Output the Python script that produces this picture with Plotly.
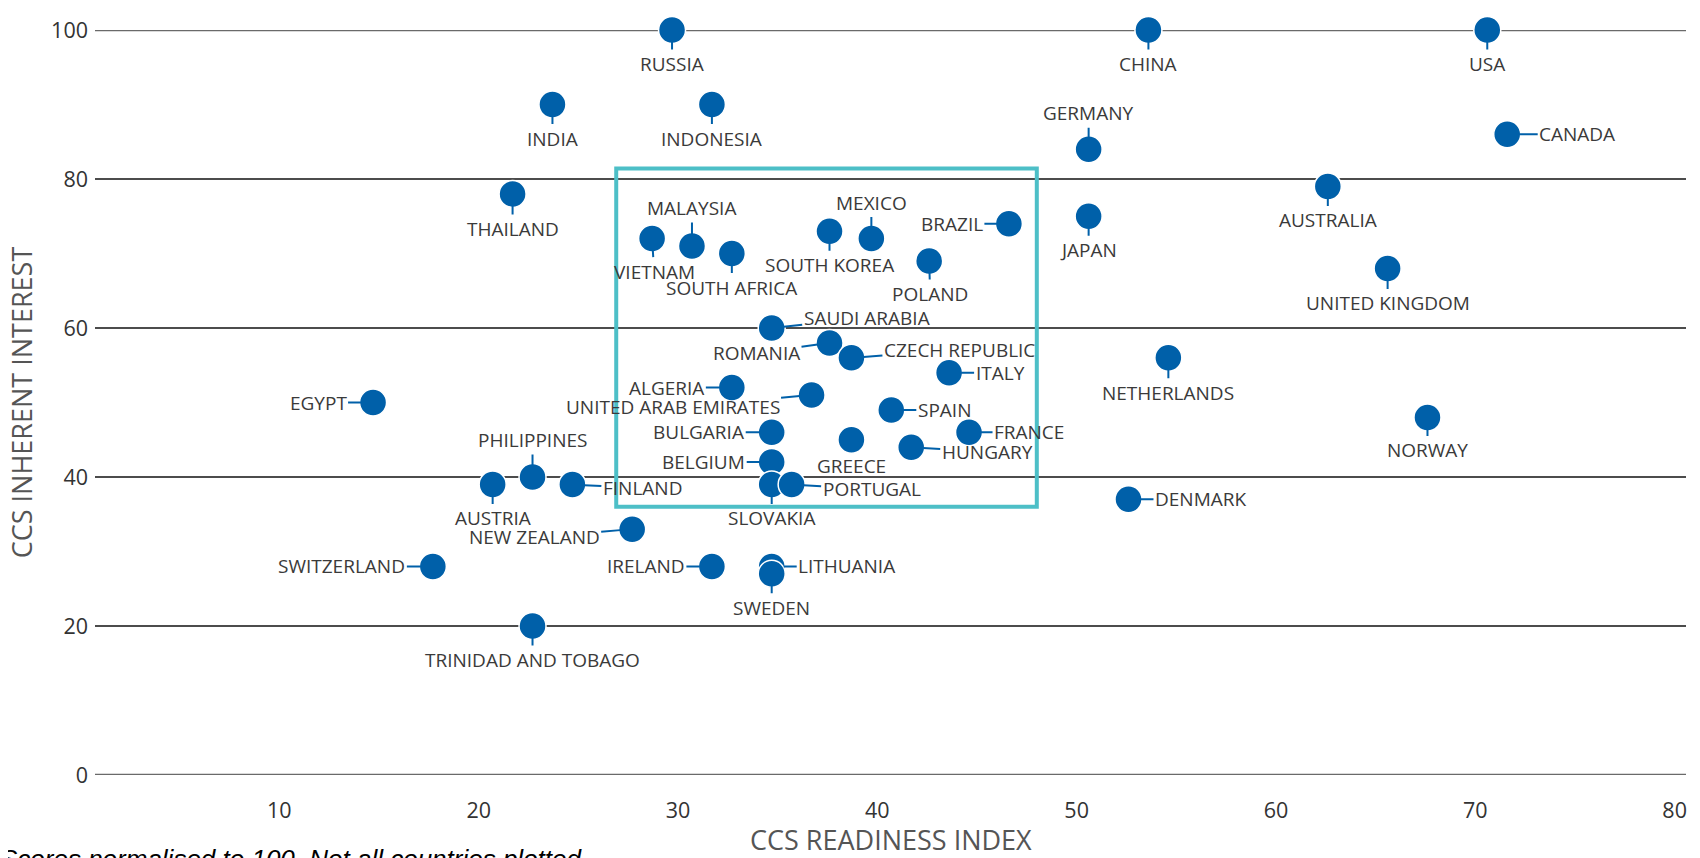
import plotly.graph_objects as go

# ---- data ----
countries = ["RUSSIA", "CHINA", "USA", "INDIA", "INDONESIA", "GERMANY", "CANADA",
             "THAILAND", "AUSTRALIA", "JAPAN", "BRAZIL", "MALAYSIA", "VIETNAM",
             "SOUTH AFRICA", "MEXICO", "SOUTH KOREA", "POLAND", "UNITED KINGDOM",
             "SAUDI ARABIA", "ROMANIA", "CZECH REPUBLIC", "NETHERLANDS", "ITALY",
             "ALGERIA", "UNITED ARAB EMIRATES", "EGYPT", "SPAIN", "NORWAY",
             "BULGARIA", "FRANCE", "GREECE", "HUNGARY", "BELGIUM", "PHILIPPINES",
             "AUSTRIA", "FINLAND", "SLOVAKIA", "PORTUGAL", "DENMARK", "NEW ZEALAND",
             "SWITZERLAND", "IRELAND", "LITHUANIA", "SWEDEN", "TRINIDAD AND TOBAGO"]
readiness = [29.7, 53.6, 70.6, 23.7, 31.7, 50.6, 71.6,
             21.7, 62.6, 50.6, 46.6, 30.7, 28.7,
             32.7, 39.7, 37.6, 42.6, 65.6,
             34.7, 37.6, 38.7, 54.6, 43.6,
             32.7, 36.7, 14.7, 40.7, 67.6,
             34.7, 44.6, 38.7, 41.7, 34.7, 22.7,
             20.7, 24.7, 34.7, 35.7, 52.6, 27.7,
             17.7, 31.7, 34.7, 34.7, 22.7]
interest = [100, 100, 100, 90, 90, 84, 86,
            78, 79, 75, 74, 71, 72,
            70, 72, 73, 69, 68,
            60, 58, 56, 56, 54,
            52, 51, 50, 49, 48,
            46, 46, 45, 44, 42, 40,
            39, 39, 39, 39, 37, 33,
            28, 28, 28, 27, 20]
x_ticks = [10, 20, 30, 40, 50, 60, 70, 80]
y_ticks = [0, 20, 40, 60, 80, 100]
focus_box = dict(x0=26.9, x1=48.0, y0=36.0, y1=81.4)

# ---- label placement (pixel offsets of label centre from marker) ----
label_offsets = {
    "RUSSIA": (0, 34), "CHINA": (0, 34), "USA": (0, 34), "INDIA": (0, 34),
    "INDONESIA": (0, 34), "GERMANY": (0, -36), "CANADA": (70, 0),
    "THAILAND": (0, 35), "AUSTRALIA": (0, 34), "JAPAN": (0, 34), "BRAZIL": (-57, 0),
    "MALAYSIA": (0, -38), "VIETNAM": (2, 33), "SOUTH AFRICA": (0, 34),
    "MEXICO": (0, -36), "SOUTH KOREA": (0, 34), "POLAND": (1, 33),
    "UNITED KINGDOM": (0, 35), "SAUDI ARABIA": (95, -10), "ROMANIA": (-73, 10),
    "CZECH REPUBLIC": (108, -8), "NETHERLANDS": (0, 35), "ITALY": (51, 0),
    "ALGERIA": (-65, 0), "UNITED ARAB EMIRATES": (-139, 12), "EGYPT": (-55, 0),
    "SPAIN": (53, 0), "NORWAY": (0, 33), "BULGARIA": (-73, 0), "FRANCE": (60, 0),
    "GREECE": (0, 26), "HUNGARY": (76, 5), "BELGIUM": (-68, 0),
    "PHILIPPINES": (0, -37), "AUSTRIA": (0, 34), "FINLAND": (70, 4),
    "SLOVAKIA": (0, 34), "PORTUGAL": (80, 5), "DENMARK": (72, 0),
    "NEW ZEALAND": (-98, 8), "SWITZERLAND": (-91, 0), "IRELAND": (-66, 0),
    "LITHUANIA": (75, 0), "SWEDEN": (0, 34), "TRINIDAD AND TOBAGO": (0, 34),
}

BLUE = "#0060A9"
TEAL = "#4DBFC7"
TEXT = "#3a3a3a"
LABEL_FONT = dict(family="Open Sans, Lato, sans-serif", size=19, color=TEXT)
TITLE_FONT = dict(family="Open Sans, sans-serif", size=27, color="#555555")
TICK_FONT = dict(family="Open Sans, sans-serif", size=21.5, color="#333333")

fig = go.Figure()

# grid lines
for v in y_ticks:
    edge = v in (y_ticks[0], y_ticks[-1])
    fig.add_shape(type="line", xref="paper", x0=0, x1=1, yref="y", y0=v, y1=v,
                  line=dict(color="#6a6a6a" if edge else "#111111",
                            width=2.6 if edge else 1.4),
                  layer="below")

fig.add_trace(go.Scatter(
    x=readiness, y=interest, mode="markers", text=countries,
    marker=dict(size=27, color=BLUE, line=dict(color="white", width=1.5)),
    cliponaxis=False, hoverinfo="text+x+y", showlegend=False,
))

annotations = []
for name, xv, yv in zip(countries, readiness, interest):
    dx, dy = label_offsets[name]
    annotations.append(dict(
        x=xv, y=yv, xref="x", yref="y", text=name, showarrow=True,
        ax=dx, ay=dy, arrowhead=0, arrowwidth=2, arrowcolor=BLUE,
        standoff=12, startstandoff=1, borderpad=0, font=LABEL_FONT,
    ))

# axis titles and footnote
annotations.append(dict(text="CCS READINESS INDEX", xref="paper", yref="paper",
                        x=0.5, y=-0.0872, xanchor="center", yanchor="middle",
                        showarrow=False, font=TITLE_FONT))
annotations.append(dict(text="CCS INHERENT INTEREST", xref="paper", yref="paper",
                        x=-0.046, y=0.5, xanchor="center", yanchor="middle",
                        textangle=-90, showarrow=False, font=TITLE_FONT))
annotations.append(dict(text="<i>Scores normalised to 100. Not all countries plotted.</i>",
                        xref="paper", yref="paper", x=-0.061, y=-0.0899,
                        xanchor="left", yanchor="top", showarrow=False,
                        font=dict(family="Liberation Sans, Arial, sans-serif", size=26,
                                  color="#000000")))

fig.add_shape(type="rect", xref="x", yref="y", **focus_box,
              line=dict(color=TEAL, width=4), layer="above")

fig.update_layout(
    template="none",
    width=1692, height=850,
    margin=dict(l=87, r=14, t=21.5, b=83, autoexpand=False),
    paper_bgcolor="white", plot_bgcolor="white",
    annotations=annotations,
    xaxis=dict(range=[0.75, 80.57], tickvals=x_ticks, showgrid=False, zeroline=False,
               showline=False, ticks="", ticklabelstandoff=20, tickfont=TICK_FONT,
               automargin=False),
    yaxis=dict(range=[0, 100], tickvals=y_ticks, showgrid=False, zeroline=False,
               showline=False, ticks="", ticklabelstandoff=6, tickfont=TICK_FONT,
               automargin=False),
)

fig.write_html("out.html")
